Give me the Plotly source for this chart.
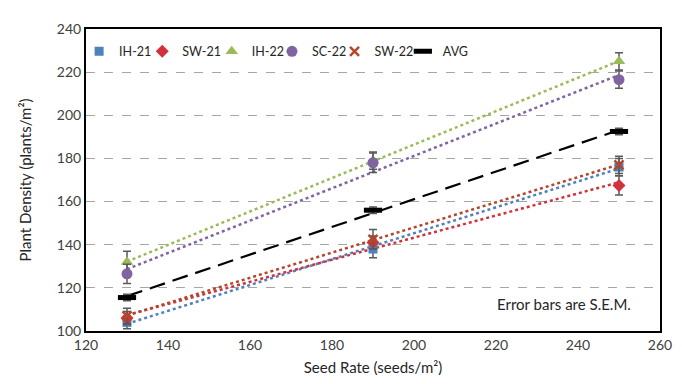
import numpy as np
import plotly.graph_objects as go

seed_rate = [130, 190, 250]
series_names = ["IH-21", "SW-21", "IH-22", "SC-22", "SW-22", "AVG"]
ih21 = [104, 138, 176]
sw21 = [106, 141, 167.5]
ih22 = [132, 179, 225]
sc22 = [126.5, 178, 216.5]
sw22 = [107, 142.5, 177]
avg = [115.5, 156, 192.5]
ih21_err = [3, 4, 4]
sw21_err = [3, 3, 4.5]
ih22_err = [5, 4, 4]
sc22_err = [4.5, 4.5, 4]
sw22_err = [3.5, 4.5, 4]
avg_err = [1.5, 1.5, 1.5]

values = [ih21, sw21, ih22, sc22, sw22, avg]
errors = [ih21_err, sw21_err, ih22_err, sc22_err, sw22_err, avg_err]
colors = ["#4F81BD", "#D0313B", "#9BBB59", "#8064A2", "#B5462A", "#000000"]
symbols = ["square", "diamond", "triangle-up", "circle", "x-thin-open", "line-ew-open"]
sizes = [9, 10, 11, 11, 9, 13]
legend_x = [-0.012, 0.098, 0.219, 0.324, 0.433, 0.552]

FONT = "Lato, 'Open Sans', sans-serif"

fig = go.Figure()

# trendlines (linear fits)
for name, vals, col in zip(series_names, values, colors):
    k, b = np.polyfit(seed_rate, vals, 1)
    xs = [seed_rate[0], seed_rate[-1]]
    ys = [k * x + b for x in xs]
    fig.add_trace(go.Scatter(
        x=xs, y=ys, mode="lines", showlegend=False, hoverinfo="skip",
        line=dict(color=col, width=2.5 if name != "AVG" else 2.2,
                  dash="dot" if name != "AVG" else "16px,8px"),
    ))

# markers with error bars, each in its own single-item legend
legend_layouts = {}
for i, (name, vals, errs, col, sym, sz) in enumerate(
        zip(series_names, values, errors, colors, symbols, sizes)):
    mk = dict(color=col, symbol=sym, size=sz)
    if sym.endswith("open"):
        mk["line"] = dict(color=col, width=2.5 if name != "AVG" else 5)
    lg = "legend" if i == 0 else f"legend{i + 1}"
    fig.add_trace(go.Scatter(
        x=seed_rate, y=vals, mode="markers", name=name, legend=lg,
        marker=mk,
        error_y=dict(type="data", array=errs, visible=True,
                     color="#595959", thickness=1.5, width=4),
    ))
    legend_layouts[lg] = dict(
        x=legend_x[i], y=0.925, xanchor="left", yanchor="middle",
        orientation="h", bgcolor="rgba(0,0,0,0)",
        font=dict(family=FONT, size=12.5, color="#262626"),
    )

fig.add_annotation(
    x=1, xref="paper", xanchor="right", xshift=-27,
    y=0, yref="paper", yanchor="bottom", yshift=16,
    text="Error bars are S.E.M.", showarrow=False,
    font=dict(family=FONT, size=15, color="#262626"),
)

fig.update_layout(
    width=682, height=384,
    margin=dict(l=78, r=30, t=15, b=61),
    paper_bgcolor="white", plot_bgcolor="white",
    font=dict(family=FONT, size=14, color="#404040"),
    xaxis=dict(
        range=[120, 260], dtick=20, showgrid=False, zeroline=False,
        showline=True, linecolor="black", linewidth=2, mirror=True,
        ticks="", tickfont=dict(size=14, color="#404040"),
        title=dict(text="Seed Rate (seeds/m²)", font=dict(size=15, color="#262626"), standoff=11),
    ),
    yaxis=dict(
        range=[100, 240], dtick=20, showgrid=True, gridcolor="#A6A6A6",
        griddash="dash", gridwidth=1.2, zeroline=False,
        showline=True, linecolor="black", linewidth=2, mirror=True,
        ticks="", tickfont=dict(size=14, color="#404040"),
        title=dict(text="Plant Density (plants/m²)", font=dict(size=15, color="#262626"), standoff=22),
    ),
    **legend_layouts,
)

fig.write_html("out.html")
